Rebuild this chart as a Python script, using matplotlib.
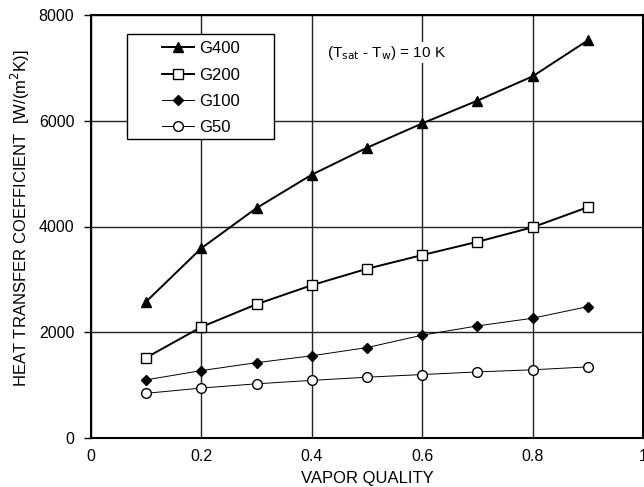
import numpy as np
import matplotlib.pyplot as plt
from matplotlib.patches import Rectangle

plt.rcParams['font.family'] = ['Liberation Sans', 'DejaVu Sans']

# vapor quality and heat transfer coefficients per mass flux
quality = [0.1, 0.2, 0.3, 0.4, 0.5, 0.6, 0.7, 0.8, 0.9]
g400 = [2580, 3590, 4350, 4980, 5490, 5950, 6380, 6840, 7520]
g200 = [1520, 2100, 2530, 2890, 3200, 3460, 3710, 3985, 4365]
g100 = [1100, 1275, 1425, 1555, 1710, 1945, 2120, 2265, 2485]
g50 = [845, 945, 1025, 1090, 1150, 1200, 1250, 1290, 1345]

fig = plt.figure(figsize=(6.44, 4.87), dpi=100)
fig.subplots_adjust(left=91/644, right=643/644, top=1-15/487, bottom=1-438/487)
ax = fig.add_subplot(111)

ax.plot(quality, g400, '-^', color='black', lw=1.4, ms=7, label='G400')
ax.plot(quality, g200, '-s', color='black', lw=1.4, ms=7, mfc='white', label='G200')
ax.plot(quality, g100, '-D', color='black', lw=0.7, ms=5, label='G100')
ax.plot(quality, g50, '-o', color='black', lw=0.7, ms=7, mfc='white', label='G50')

ax.set_xlim(0, 1)
ax.set_ylim(0, 8000)
ax.set_xticks([0, 0.2, 0.4, 0.6, 0.8, 1])
ax.set_xticklabels(['0', '0.2', '0.4', '0.6', '0.8', '1'])
ax.set_yticks([0, 2000, 4000, 6000, 8000])
ax.grid(True, color='#222222', lw=1.0)
ax.set_axisbelow(True)
for s in ax.spines.values():
    s.set_linewidth(1.5)
ax.tick_params(axis='y', direction='out', length=5, width=1, labelsize=11.5, pad=7)
ax.tick_params(axis='x', length=0, labelsize=11.5, pad=8)

ax.set_xlabel('VAPOR QUALITY', fontsize=12)
ax.set_ylabel('HEAT TRANSFER COEFFICIENT  [W/(m$^2$K)]', fontsize=12)
ax.xaxis.set_label_coords(0.5, -0.078)
ax.yaxis.set_label_coords(-0.107, 0.52)

ax.text(0.428, 7290, r'(T$_{\mathrm{sat}}$ - T$_{\mathrm{w}}$) = 10 K', fontsize=11,
        va='center', ha='left',
        bbox=dict(facecolor='white', edgecolor='none', pad=1))

# legend box with wide margins
ax.add_patch(Rectangle((0.0652, 0.7069), 0.2663, 0.2481, transform=ax.transAxes,
                       facecolor='white', edgecolor='black', lw=1.0, zorder=4))
leg = ax.legend(loc='center left', bbox_to_anchor=(0.128, 0.827), borderaxespad=0,
                frameon=False, fontsize=12, borderpad=0,
                handlelength=1.95, handletextpad=0.3, labelspacing=0.68)
leg.set_zorder(5)

fig.savefig('out.png', dpi=100)
